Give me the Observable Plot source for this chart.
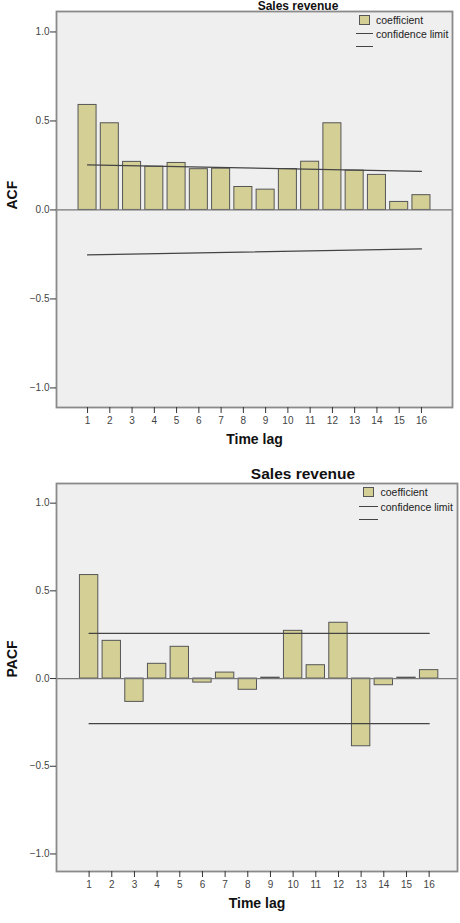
<!DOCTYPE html>
<html>
<head>
<meta charset="utf-8">
<script src="https://cdn.jsdelivr.net/npm/d3@7"></script>
<script src="https://cdn.jsdelivr.net/npm/@observablehq/plot@0.6"></script>
<style>
  html, body { margin: 0; padding: 0; background: #fff; width: 460px; height: 923px; overflow: hidden; }
  body { position: relative; font-family: "Liberation Sans", Arial, sans-serif; }
  .panel { position: absolute; left: 0; }
  .title { position: absolute; font-weight: bold; font-size: 15.5px; line-height: 1; color: #111; white-space: nowrap; transform: translateX(-50%); }
  .leg { position: absolute; font-size: 10.5px; color: #222; white-space: nowrap; line-height: 1; }
  .sw { position: absolute; background: #d4d095; border: 1px solid #555; box-sizing: border-box; }
  .ln { position: absolute; height: 0; border-top: 1.5px solid #444; }
</style>
</head>
<body>
<script>
// ---- data ----
const lags = [1,2,3,4,5,6,7,8,9,10,11,12,13,14,15,16];
const acf = [0.59,0.487,0.27,0.243,0.264,0.229,0.232,0.129,0.114,0.23,0.271,0.487,0.221,0.197,0.045,0.083];
const pacf = [0.59,0.215,-0.133,0.084,0.181,-0.023,0.034,-0.064,0.005,0.272,0.076,0.318,-0.386,-0.038,0.005,0.048];
const acfLimitLags = [1,16];
const acfUpper = [0.253,0.217];
const acfLower = [-0.253,-0.219];
const pacfLimitLags = [1,16];
const pacfUpper = [0.257,0.257];
const pacfLower = [-0.257,-0.257];
const yTicks = [-1,-0.5,0,0.5,1];
const titleText = "Sales revenue";
const legendLabels = ["coefficient","confidence limit"];

function panel({values, upper, lower, limitLags, yLabel, height, mt, mb, mr, yDomain, po, align}) {
  const bars = lags.map((l,i)=>({lag:l, v:values[i]}));
  const up = limitLags.map((l,i)=>({lag:l, v:upper[i]}));
  const lo = limitLags.map((l,i)=>({lag:l, v:lower[i]}));
  return Plot.plot({
    width: 460, height,
    marginLeft: 56, marginRight: mr, marginTop: mt, marginBottom: mb,
    style: {background: "transparent", fontFamily: "Liberation Sans, Arial, sans-serif", fontSize: "10px", color: "#333"},
    x: {type: "band", domain: lags, paddingInner: 0.19, paddingOuter: po, align, round: false, label: null},
    y: {domain: yDomain, label: null},
    marks: [
      Plot.frame({fill: "#efefef", stroke: "none"}),
      Plot.rectY(bars, {x: "lag", y1: 0, y2: "v", fill: "#d4d095", stroke: "#555", strokeWidth: 1}),
      Plot.ruleY([0], {stroke: "#777", strokeWidth: 1.3}),
      Plot.line(up, {x: "lag", y: "v", stroke: "#444", strokeWidth: 1.3}),
      Plot.line(lo, {x: "lag", y: "v", stroke: "#444", strokeWidth: 1.3}),
      Plot.frame({stroke: "#8a8a8a", strokeWidth: 1.8}),
      Plot.axisY({ticks: yTicks, tickFormat: d3.format(".1f"), tickSize: 6, tickPadding: 1, label: null, fill: "#444", fontSize: 10}),
      Plot.axisX({tickSize: 6, tickPadding: 3, label: "Time lag", labelAnchor: "center", labelArrow: "none", labelOffset: 36, fill: "#444", fontSize: 10}),
      Plot.text([yLabel], {frameAnchor: "left", dx: -44, rotate: -90, text: d=>d, fontWeight: "bold", fontSize: 14, fill: "#111"})
    ]
  });
}

function addPanel(top, opts) {
  const svg = panel(opts);
  svg.classList.add("panel");
  svg.style.top = top + "px";
  document.body.appendChild(svg);
}

addPanel(0, {values: acf, upper: acfUpper, lower: acfLower, limitLags: acfLimitLags, yLabel: "ACF",
  height: 455, mt: 11, mb: 48, mr: 8, yDomain: [-1.11, 1.115], po: 0.99, align: 0.5});
addPanel(460, {values: pacf, upper: pacfUpper, lower: pacfLower, limitLags: pacfLimitLags, yLabel: "PACF",
  height: 463, mt: 23, mb: 52, mr: 3, yDomain: [-1.10, 1.112], po: 0.94, align: 0.55});

// Time lag label bold
document.querySelectorAll("svg.panel g[aria-label='x-axis label'] text").forEach(t => {
  t.setAttribute("font-weight", "bold"); t.setAttribute("font-size", "14"); t.setAttribute("fill", "#111");
});

function addHtml(cls, css, text) {
  const el = document.createElement("div");
  el.className = cls;
  Object.assign(el.style, css);
  if (text) el.textContent = text;
  document.body.appendChild(el);
}
// titles
addHtml("title", {left: "298px", top: "0px", fontSize: "12px"}, titleText);
addHtml("title", {left: "303px", top: "466px"}, titleText);
// legends
function legend(sx, sy, lx, ly1, ly2, tx, ty1, ty2) {
  addHtml("sw", {left: sx + "px", top: sy + "px", width: "11px", height: "10px"});
  addHtml("leg", {left: tx + "px", top: (ty1 - 5.5) + "px"}, legendLabels[0]);
  addHtml("ln", {left: lx[0] + "px", top: ly1 + "px", width: (lx[1]-lx[0]) + "px"});
  addHtml("leg", {left: tx + "px", top: (ty2 - 5.5) + "px"}, legendLabels[1]);
  addHtml("ln", {left: lx[0] + "px", top: ly2 + "px", width: (lx[1]-lx[0]) + "px"});
}
legend(359, 14.5, [355.5, 372.5], 32.8, 45.8, 376, 20, 34);
legend(363, 487, [359, 378], 506, 518.8, 380.5, 492.7, 507.3);
</script>
</body>
</html>
